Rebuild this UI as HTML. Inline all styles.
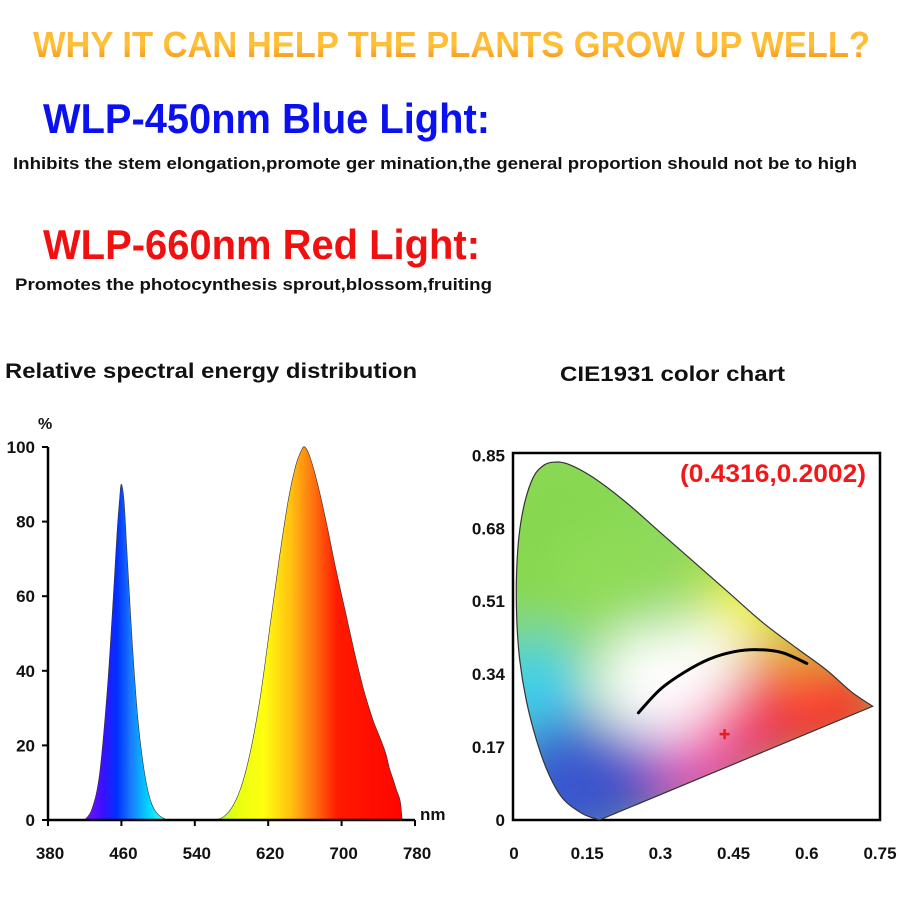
<!DOCTYPE html>
<html><head><meta charset="utf-8"><style>
html,body{margin:0;padding:0;background:#fff;width:900px;height:900px;overflow:hidden}
svg{display:block;font-family:"Liberation Sans",Arial,sans-serif;font-weight:bold}
</style></head><body>
<svg id="root" width="900" height="900" viewBox="0 0 900 900">
<defs>
<linearGradient id="tg" x1="0" y1="0" x2="0" y2="1">
<stop offset="0" stop-color="#ffb02a"/><stop offset="0.5" stop-color="#ffc23a"/><stop offset="1" stop-color="#f58a14"/>
</linearGradient>
<filter id="blur" x="-50%" y="-50%" width="200%" height="200%"><feGaussianBlur stdDeviation="26"/></filter>
</defs>
<text x="33" y="57" font-size="36" fill="url(#tg)" textLength="837" lengthAdjust="spacingAndGlyphs">WHY IT CAN HELP THE PLANTS GROW UP WELL?</text>
<text x="43" y="133" font-size="42" fill="#0a10ee" textLength="447" lengthAdjust="spacingAndGlyphs">WLP-450nm Blue Light:</text>
<text x="13" y="169" font-size="17" fill="#111" textLength="844" lengthAdjust="spacingAndGlyphs">Inhibits the stem elongation,promote ger mination,the general proportion should not be to high</text>
<text x="43" y="259" font-size="42" fill="#f01010" textLength="437" lengthAdjust="spacingAndGlyphs">WLP-660nm Red Light:</text>
<text x="15" y="290" font-size="17" fill="#111" textLength="477" lengthAdjust="spacingAndGlyphs">Promotes the photocynthesis sprout,blossom,fruiting</text>
<text x="5" y="378" font-size="21" fill="#111" textLength="412" lengthAdjust="spacingAndGlyphs">Relative spectral energy distribution</text>
<text x="560" y="381" font-size="21" fill="#111" textLength="225" lengthAdjust="spacingAndGlyphs">CIE1931 color chart</text>
<g id="spec"></g>
<g id="cie"></g>
</svg>
<script>
const NS="http://www.w3.org/2000/svg";
// ---- spectrum data ----
const blueWl=[420,428,436,444,450,455,458,460,463,467,472,478,485,492,500,510];
const blueVal=[0,3,12,33,55,76,86,90,85,68,47,27,13,5,1.5,0];
const redWl=[562,572,582,592,602,612,622,632,642,650,656,660,666,674,684,694,704,714,724,734,742,748,752,756,760,764,766];
const redVal=[0,1,4,10,20,34,52,70,86,95,99,100,97,90,79,67,56,45,35,27,22,18,14,11,8,5,0];
const xTicks=[380,460,540,620,700,780];
const yTicks=[0,20,40,60,80,100];
// ---- CIE data ----
const locusX=[0.175,0.14,0.1,0.07,0.045,0.025,0.012,0.006,0.005,0.01,0.022,0.04,0.06,0.08,0.11,0.16,0.23,0.3,0.37,0.44,0.51,0.58,0.64,0.69,0.735];
const locusY=[0.0,0.015,0.05,0.11,0.19,0.28,0.37,0.46,0.56,0.66,0.74,0.8,0.826,0.834,0.83,0.8,0.74,0.67,0.6,0.53,0.46,0.4,0.35,0.3,0.265];
const plankX=[0.255,0.3,0.35,0.4,0.45,0.5,0.55,0.6];
const plankY=[0.25,0.305,0.345,0.375,0.392,0.397,0.39,0.365];
const cieXTicks=[0,0.15,0.3,0.45,0.6,0.75];
const cieYTicks=[0,0.17,0.34,0.51,0.68,0.85];
const pointX=[0.4316];const pointY=[0.2002];

function mk(tag,attrs,parent){const e=document.createElementNS(NS,tag);for(const k in attrs)e.setAttribute(k,attrs[k]);parent.appendChild(e);return e;}
function smooth(pts){let d='M'+pts[0][0].toFixed(1)+','+pts[0][1].toFixed(1);
for(let i=0;i<pts.length-1;i++){const p0=pts[Math.max(0,i-1)],p1=pts[i],p2=pts[i+1],p3=pts[Math.min(pts.length-1,i+2)];
const c1=[p1[0]+(p2[0]-p0[0])/6,p1[1]+(p2[1]-p0[1])/6],c2=[p2[0]-(p3[0]-p1[0])/6,p2[1]-(p3[1]-p1[1])/6];
d+=` C${c1[0].toFixed(1)},${c1[1].toFixed(1)} ${c2[0].toFixed(1)},${c2[1].toFixed(1)} ${p2[0].toFixed(1)},${p2[1].toFixed(1)}`;}
return d;}

// spectrum axes
const sx=w=>48+(w-380)*(367/400);
const sy=v=>820-v*3.73;
const spec=document.getElementById('spec');
const defs=document.querySelector('defs');
const sg=mk('linearGradient',{id:'sg',gradientUnits:'userSpaceOnUse',x1:sx(380),y1:0,x2:sx(780),y2:0},defs);
[[420,'#7a10ff'],[440,'#3a10ff'],[455,'#0030ff'],[470,'#1a78ff'],[490,'#00d8ff'],[505,'#30ffff'],[560,'#a0ff40'],[585,'#e8ff10'],[615,'#ffff10'],[645,'#ffc010'],[670,'#ff7010'],[695,'#ff1a00'],[780,'#ff0000']].forEach(s=>mk('stop',{offset:((s[0]-380)/400).toFixed(4),'stop-color':s[1]},sg));
function area(wl,val,name){const pts=wl.map((w,i)=>[sx(w),sy(val[i])]);
const d=smooth(pts)+' Z';
const p=mk('path',{d:d,fill:'url(#sg)',stroke:'#333','stroke-width':'0.6'},spec);

}
area(blueWl,blueVal,'blue-peak-area');
area(redWl,redVal,'red-peak-area');
const ya=mk('path',{d:`M48,${sy(100)} L48,821 M48,820 L415,820`,stroke:'#000','stroke-width':'2.5',fill:'none'},spec);


yTicks.forEach(v=>{mk('line',{x1:42,x2:48,y1:sy(v),y2:sy(v),stroke:'#000','stroke-width':2},spec);
const t=mk('text',{x:35,y:sy(v)+6,'font-size':17,'text-anchor':'end',fill:'#111'},spec);t.textContent=v;

});
xTicks.forEach(v=>{mk('line',{x1:sx(v),x2:sx(v),y1:820,y2:826,stroke:'#000','stroke-width':2},spec);
const t=mk('text',{x:sx(v)+2,y:859,'font-size':17,'text-anchor':'middle',fill:'#111'},spec);t.textContent=v;

});
let t=mk('text',{x:38,y:429,'font-size':16,fill:'#111'},spec);t.textContent='%';


t=mk('text',{x:420,y:820,'font-size':17,fill:'#111'},spec);t.textContent='nm';



// CIE
const cx=v=>514+v*488;
const cy=v=>820-v*429;
const cie=document.getElementById('cie');
const frame=mk('rect',{x:513,y:453,width:367,height:367,fill:'#fff',stroke:'#000','stroke-width':2.5},cie);


const ld=smooth(locusX.map((x,i)=>[cx(x),cy(locusY[i])]))+' Z';
const cp=mk('clipPath',{id:'lc'},defs);mk('path',{d:ld},cp);
const cg=mk('g',{'clip-path':'url(#lc)'},cie);
mk('rect',{x:510,y:450,width:380,height:380,fill:'#8fd860'},cg);
const fg=mk('g',{filter:'url(#blur)'},cg);
[[0.1,0.65,90,'#86d850'],[0.2,0.55,60,'#90dc58'],[0.04,0.3,55,'#40d0f0'],[0.12,0.08,70,'#3858d0'],[0.25,0.1,50,'#4050c8'],[0.38,0.13,45,'#e040c0'],[0.45,0.2,45,'#f03890'],[0.58,0.28,60,'#f03040'],[0.68,0.27,40,'#ff2828'],[0.47,0.5,42,'#f8f010'],[0.58,0.38,28,'#f8a030'],[0.28,0.32,55,'#ffffff'],[0.38,0.37,45,'#ffffff'],[0.34,0.24,25,'#fff5fa']].forEach(c=>mk('circle',{cx:cx(c[0]),cy:cy(c[1]),r:c[2],fill:c[3]},fg));
const lo=mk('path',{d:ld,fill:'none',stroke:'#333','stroke-width':1.2},cie);


const pl=mk('path',{d:smooth(plankX.map((x,i)=>[cx(x),cy(plankY[i])])),fill:'none',stroke:'#000','stroke-width':3,'stroke-linecap':'round'},cie);


pointX.forEach((x,i)=>{const px=cx(x),py=cy(pointY[i]);
const m=mk('path',{d:`M${px-5},${py} L${px+5},${py} M${px},${py-5} L${px},${py+5}`,stroke:'#e02020','stroke-width':2.5},cie);

});
t=mk('text',{x:680,y:482,'font-size':25,fill:'#f01818',textLength:186,lengthAdjust:'spacingAndGlyphs'},cie);t.textContent='(0.4316,0.2002)';


cieYTicks.forEach(v=>{const t=mk('text',{x:505,y:cy(v)+6,'font-size':17,'text-anchor':'end',fill:'#111'},cie);t.textContent=v;

});
cieXTicks.forEach(v=>{const t=mk('text',{x:cx(v),y:859,'font-size':17,'text-anchor':'middle',fill:'#111'},cie);t.textContent=v;

});
</script>
</body></html>
